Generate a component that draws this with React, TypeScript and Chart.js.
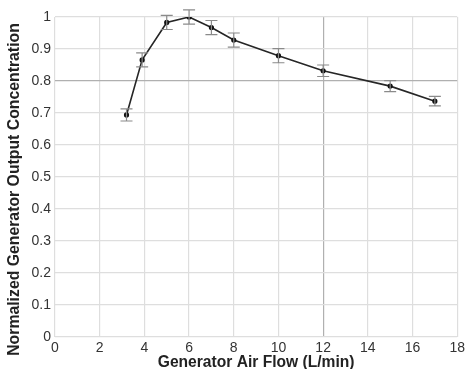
import React, { useEffect, useRef } from "react";
import { Chart, registerables } from "chart.js";

Chart.register(...registerables);

const airFlow = [3.2, 3.9, 5, 6, 7, 8, 10, 12, 15, 17];
const concentration = [0.694, 0.866, 0.983, 1.0, 0.967, 0.928, 0.879, 0.832, 0.784, 0.737];
const errorHalf = [0.019, 0.022, 0.022, 0.022, 0.022, 0.022, 0.022, 0.018, 0.017, 0.015];
const yTitle = "Normalized Generator Output Concentration";
const xTitle = "Generator Air Flow (L/min)";
const FONT = "'Liberation Sans', Arial, sans-serif";

const errorBarPlugin = {
  id: "errorBars",
  afterDatasetsDraw(chart: any) {
    const ctx = chart.ctx;
    const xs = chart.scales.x;
    const ys = chart.scales.y;
    ctx.save();
    ctx.strokeStyle = "#8a8a8a";
    ctx.lineWidth = 1.2;
    for (let i = 0; i < airFlow.length; i++) {
      const px = xs.getPixelForValue(airFlow[i]);
      const top = ys.getPixelForValue(concentration[i] + errorHalf[i]);
      const bot = ys.getPixelForValue(concentration[i] - errorHalf[i]);
      const cap = 6;
      ctx.beginPath();
      ctx.moveTo(px, top);
      ctx.lineTo(px, bot);
      ctx.moveTo(px - cap, top);
      ctx.lineTo(px + cap, top);
      ctx.moveTo(px - cap, bot);
      ctx.lineTo(px + cap, bot);
      ctx.stroke();
    }
    ctx.restore();
  },
};

const yTitlePlugin = {
  id: "yTitle",
  afterDraw(chart: any) {
    const ctx = chart.ctx;
    ctx.save();
    ctx.translate(14.5, 189.5);
    ctx.rotate(-Math.PI / 2);
    ctx.font = "bold 15.8px " + FONT;
    ctx.fillStyle = "#222";
    ctx.textAlign = "center";
    ctx.textBaseline = "middle";
    ctx.fillText(yTitle, 0, 0);
    ctx.restore();
  },
};

export default function App() {
  const ref = useRef<HTMLCanvasElement>(null);
  useEffect(() => {
    document.body.style.margin = "0";
    const canvas = ref.current!;
    const chart = new Chart(canvas, {
      type: "scatter",
      data: {
        datasets: [
          {
            data: airFlow.map((x, i) => ({ x, y: concentration[i] })),
            showLine: true,
            borderColor: "#262626",
            borderWidth: 1.6,
            pointRadius: 1.8,
            pointBackgroundColor: "#111",
            pointBorderColor: "#111",
          },
        ],
      },
      options: {
        animation: false,
        responsive: false,
        layout: { padding: { top: 17, right: 8, left: 0, bottom: 0 } },
        plugins: { legend: { display: false }, tooltip: { enabled: false } },
        scales: {
          x: {
            type: "linear",
            min: 0,
            max: 18,
            ticks: { stepSize: 2, color: "#333", font: { family: FONT, size: 14 }, padding: 3, maxRotation: 0 },
            grid: {
              drawTicks: false,
              color: (c: any) => (c.tick && c.tick.value === 12 ? "#b0b0b0" : "#dedede"),
              lineWidth: 1.2,
            },
            border: { display: false },
            title: {
              display: true,
              text: xTitle,
              color: "#222",
              font: { family: FONT, size: 15.6, weight: "bold" },
              padding: { top: 1, bottom: -3 },
            },
            afterFit: (s: any) => {
              s.height = 32;
            },
          },
          y: {
            min: 0,
            max: 1,
            ticks: {
              stepSize: 0.1,
              color: "#333",
              font: { family: FONT, size: 14 },
              padding: 4,
              callback: (v: any) => String(Math.round(Number(v) * 10) / 10),
            },
            grid: {
              drawTicks: false,
              color: (c: any) => (c.tick && Math.abs(c.tick.value - 0.8) < 1e-6 ? "#b0b0b0" : "#dedede"),
              lineWidth: 1.2,
            },
            border: { display: false },
            title: { display: false },
            afterFit: (s: any) => {
              s.width = 55;
            },
          },
        },
      },
      plugins: [errorBarPlugin, yTitlePlugin],
    });
    return () => chart.destroy();
  }, []);
  return <canvas ref={ref} width={468} height={369} style={{ display: "block" }} />;
}
